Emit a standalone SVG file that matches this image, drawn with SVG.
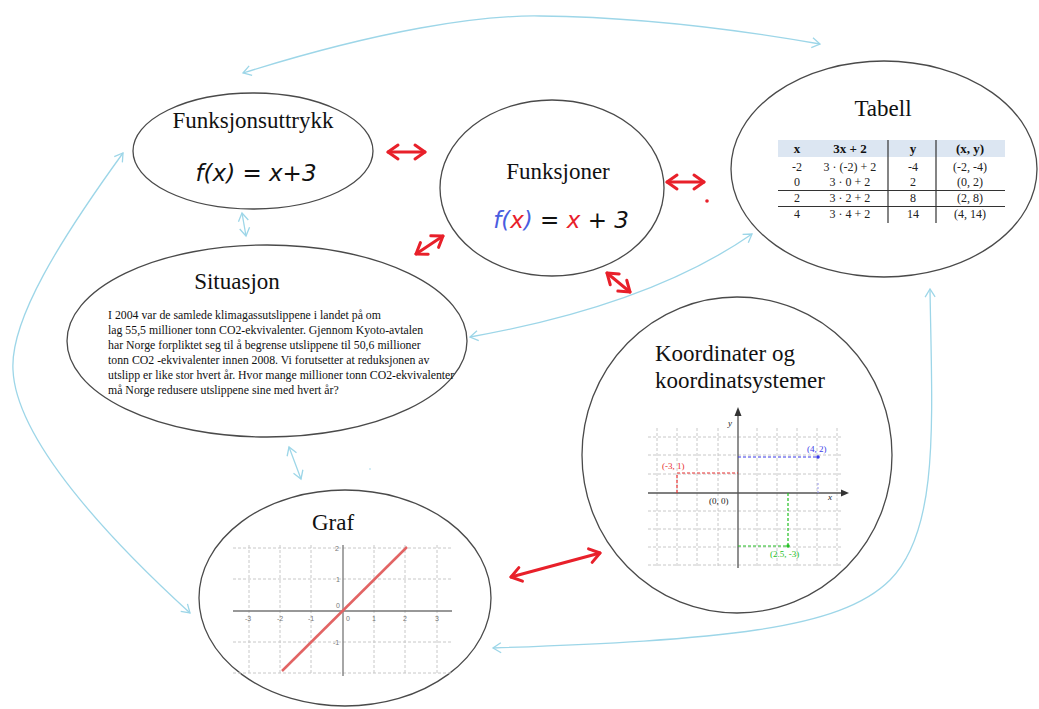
<svg xmlns="http://www.w3.org/2000/svg" width="1039" height="709" viewBox="0 0 1039 709">
<defs>
<style>
.node{fill:#fff;stroke:#4a4a4a;stroke-width:1.3}
.title{font-family:"Liberation Serif",serif;font-size:23px;fill:#111}
.para{font-family:"Liberation Serif",serif;font-size:11.8px;fill:#111}
.hand{font-family:"DejaVu Sans",sans-serif;font-style:italic;font-size:23px}
.blue{fill:none;stroke:#9dd6e8;stroke-width:1.3}
.red{fill:none;stroke:#e8202a;stroke-width:3;stroke-linecap:round}
.grid{stroke:#c8c8c8;stroke-width:1;stroke-dasharray:3 2;fill:none}
.axis{stroke:#555;stroke-width:1.3;fill:none}
.tick{font-family:"Liberation Sans",sans-serif;font-size:7px;fill:#777;text-anchor:middle}
.tbl{font-family:"Liberation Serif",serif;font-size:12px;fill:#222;text-anchor:middle}
.tblh{font-family:"Liberation Serif",serif;font-size:13px;font-weight:bold;fill:#111;text-anchor:middle}
.lbl{font-family:"Liberation Serif",serif;font-size:9px}
</style>
<marker id="ab" markerUnits="userSpaceOnUse" viewBox="-10 -7 12 14" refX="0" refY="0" markerWidth="12" markerHeight="14" orient="auto-start-reverse"><path d="M-8,-5 L0,0 L-8,5" fill="none" stroke="#9dd6e8" stroke-width="1.3"/></marker>
<marker id="ar" markerUnits="userSpaceOnUse" viewBox="-13 -10 16 20" refX="0" refY="0" markerWidth="16" markerHeight="20" orient="auto-start-reverse"><path d="M-10,-7 L0,0 L-10,7" fill="none" stroke="#e8202a" stroke-width="3" stroke-linecap="round" stroke-linejoin="round"/></marker>
</defs>
<rect width="1039" height="709" fill="#fff"/>

<g id="connectors">
<path class="blue" d="M243,73 C380,30 480,15 540,16 C640,17 740,30 820,44" marker-start="url(#ab)" marker-end="url(#ab)"/>
<path class="blue" d="M123,153 C60,240 10,320 13,370 C16,440 110,540 190,613" marker-start="url(#ab)" marker-end="url(#ab)"/>
<path class="blue" d="M470,337 Q650,305 752,234" marker-start="url(#ab)" marker-end="url(#ab)"/>
<path class="blue" d="M930,289 C932,420 940,530 890,580 C840,630 720,640 493,648" marker-start="url(#ab)" marker-end="url(#ab)"/>
<path class="blue" d="M242,213 L246,236" marker-start="url(#ab)" marker-end="url(#ab)"/>
<path class="blue" d="M289,447 L301,479" marker-start="url(#ab)" marker-end="url(#ab)"/>
<circle cx="370" cy="469" r="0.8" fill="#9dd6e8"/>
<path class="red" d="M388,152 L425,152" marker-start="url(#ar)" marker-end="url(#ar)"/>
<path class="red" d="M667,182 L704,182" marker-start="url(#ar)" marker-end="url(#ar)"/>
<circle cx="707" cy="201" r="1.8" fill="#e8202a"/>
<path class="red" d="M416,254 L443,236" marker-start="url(#ar)" marker-end="url(#ar)"/>
<path class="red" d="M607,273 L630,292" marker-start="url(#ar)" marker-end="url(#ar)"/>
<path class="red" d="M511,577 L600,553" marker-start="url(#ar)" marker-end="url(#ar)"/>
</g>

<g id="funksjonsuttrykk">
<ellipse class="node" cx="253" cy="151" rx="120" ry="58"/>
<text class="title" x="253" y="128" text-anchor="middle">Funksjonsuttrykk</text>
<text class="hand" x="256" y="181" text-anchor="middle" fill="#111">f(x) = x+3</text>
</g>

<g id="funksjoner">
<ellipse class="node" cx="552" cy="188" rx="112" ry="88"/>
<text class="title" x="558" y="179" text-anchor="middle">Funksjoner</text>
<text class="hand" x="561" y="228" text-anchor="middle"><tspan fill="#4a5de0">f(</tspan><tspan fill="#e8202a">x</tspan><tspan fill="#4a5de0">)</tspan><tspan fill="#111"> = </tspan><tspan fill="#e8202a">x</tspan><tspan fill="#111"> + 3</tspan></text>
</g>

<g id="tabell">
<ellipse class="node" cx="884" cy="169" rx="153" ry="108"/>
<text class="title" x="883" y="116" text-anchor="middle">Tabell</text>
<rect x="778" y="140" width="227" height="17" fill="#dce6f2"/>
<line x1="888" y1="140" x2="888" y2="223" stroke="#333" stroke-width="1.2"/>
<line x1="936" y1="140" x2="936" y2="223" stroke="#333" stroke-width="1.2"/>
<line x1="778" y1="190.5" x2="1005" y2="190.5" stroke="#333" stroke-width="1.2"/>
<line x1="778" y1="206.5" x2="1005" y2="206.5" stroke="#333" stroke-width="1.2"/>
<text class="tblh" x="797" y="153">x</text>
<text class="tblh" x="850" y="153">3x + 2</text>
<text class="tblh" x="913" y="153">y</text>
<text class="tblh" x="970" y="153">(x, y)</text>
<text class="tbl" x="797" y="171">-2</text><text class="tbl" x="850" y="171">3 · (-2) + 2</text><text class="tbl" x="913" y="171">-4</text><text class="tbl" x="970" y="171">(-2, -4)</text>
<text class="tbl" x="797" y="186">0</text><text class="tbl" x="850" y="186">3 · 0 + 2</text><text class="tbl" x="913" y="186">2</text><text class="tbl" x="970" y="186">(0, 2)</text>
<text class="tbl" x="797" y="202">2</text><text class="tbl" x="850" y="202">3 · 2 + 2</text><text class="tbl" x="913" y="202">8</text><text class="tbl" x="970" y="202">(2, 8)</text>
<text class="tbl" x="797" y="218">4</text><text class="tbl" x="850" y="218">3 · 4 + 2</text><text class="tbl" x="913" y="218">14</text><text class="tbl" x="970" y="218">(4, 14)</text>
</g>

<g id="situasjon">
<ellipse class="node" cx="267" cy="341" rx="200" ry="96"/>
<text class="title" x="237" y="289" text-anchor="middle">Situasjon</text>
<text class="para" x="108" y="319">I 2004 var de samlede klimagassutslippene i landet på om</text>
<text class="para" x="108" y="334">lag 55,5 millioner tonn CO2-ekvivalenter. Gjennom Kyoto-avtalen</text>
<text class="para" x="108" y="349">har Norge forpliktet seg til å begrense utslippene til 50,6 millioner</text>
<text class="para" x="108" y="364">tonn CO2 -ekvivalenter innen 2008. Vi forutsetter at reduksjonen av</text>
<text class="para" x="108" y="379">utslipp er like stor hvert år. Hvor mange millioner tonn CO2-ekvivalenter</text>
<text class="para" x="108" y="394">må Norge redusere utslippene sine med hvert år?</text>
</g>

<g id="koordinater">
<ellipse class="node" cx="737" cy="455" rx="155" ry="158"/>
<text class="title" x="655" y="361">Koordinater og</text>
<text class="title" x="655" y="388">koordinatsystemer</text>
<path class="grid" d="M657,428V567M677,428V567M697,428V567M718,428V567M757,428V567M777,428V567M797,428V567M817,428V567M837,428V567"/>
<path class="grid" d="M648,437H842M648,455H842M648,474H842M648,511H842M648,529H842M648,547H842M648,565H842"/>
<path class="axis" d="M648,493H845M738,568V412"/>
<path d="M849,493 L841,489.5 L841,496.5Z" fill="#333"/>
<path d="M738,407 L734.5,416 L741.5,416Z" fill="#333"/>
<text class="lbl" x="728" y="426" font-style="italic" fill="#222">y</text>
<text class="lbl" x="828" y="500" font-style="italic" fill="#222">x</text>
<path d="M677,493V473H738" fill="none" stroke="#e83030" stroke-width="1.2" stroke-dasharray="3 2"/>
<path d="M738,457H818" fill="none" stroke="#3a3ae8" stroke-width="1.2" stroke-dasharray="3 2"/>
<path d="M818,483V493" fill="none" stroke="#9a9af0" stroke-width="1" stroke-dasharray="2 2"/>
<circle cx="818" cy="457" r="1.8" fill="#3a3ae8"/>
<path d="M788,493V546H738" fill="none" stroke="#22c022" stroke-width="1.2" stroke-dasharray="3 2"/>
<circle cx="788" cy="546" r="1.8" fill="#22c022"/>
<text class="lbl" x="662" y="469" fill="#e83030">(-3, 1)</text>
<text class="lbl" x="807" y="452" fill="#3a3ae8">(4, 2)</text>
<text class="lbl" x="709" y="504" fill="#222">(0, 0)</text>
<text class="lbl" x="770" y="557" fill="#22c022">(2.5, -3)</text>
</g>

<g id="graf">
<ellipse class="node" cx="345" cy="598" rx="146" ry="108"/>
<text class="title" x="333" y="530" text-anchor="middle">Graf</text>
<path class="grid" d="M249,545V675M280,545V675M311,545V675M374,545V675M405,545V675M437,545V675"/>
<path class="grid" d="M233,548H452M233,579H452M233,642H452M233,673H452"/>
<path d="M233,611H452M343,545V676" stroke="#777" stroke-width="1.3" fill="none"/>
<line x1="282" y1="671" x2="407" y2="547" stroke="#e26464" stroke-width="2.5"/>
<text class="tick" x="248" y="621">-3</text>
<text class="tick" x="280" y="621">-2</text>
<text class="tick" x="311" y="621">-1</text>
<text class="tick" x="348" y="621">0</text>
<text class="tick" x="374" y="621">1</text>
<text class="tick" x="405" y="621">2</text>
<text class="tick" x="437" y="621">3</text>
<text class="tick" x="337" y="551">2</text>
<text class="tick" x="338" y="582">1</text>
<text class="tick" x="338" y="608">0</text>
<text class="tick" x="336" y="645">-1</text>
</g>
</svg>
